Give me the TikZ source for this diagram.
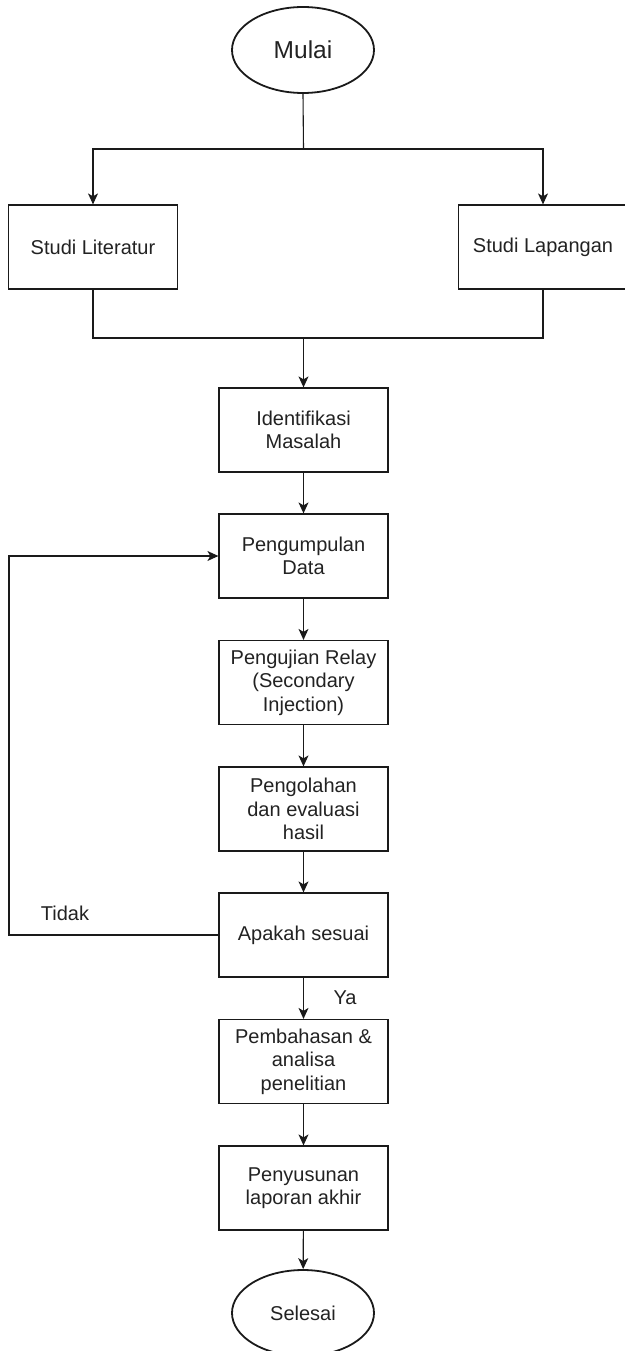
\documentclass[tikz,border=0pt]{standalone}
\usepackage{fontspec}
\setmainfont{Liberation Sans}
\usepackage{tikz}
\usetikzlibrary{arrows.meta, positioning, shapes.geometric}
\definecolor{fcLine}{HTML}{1A1A1A}
\definecolor{fcText}{HTML}{222222}

\begin{document}
\begin{tikzpicture}[
  x=1pt, y=-1pt,
  box/.style={draw=fcLine, line width=1.2pt, minimum width=169pt, minimum height=84pt,
              align=center, text=fcText, font=\fontsize{20}{23.5}\selectfont, inner sep=2pt},
  term/.style={draw=fcLine, ellipse, line width=1.8pt, minimum width=142pt, minimum height=86pt,
               text=fcText, font=\fontsize{#1}{24}\selectfont},
  lbl/.style={text=fcText, font=\fontsize{20}{24}\selectfont},
  arr/.style={-{Stealth[length=11pt,width=10pt,inset=3pt]}, line width=1.1pt, fcLine},
  ln/.style={line width=1.1pt, fcLine}
]
  \useasboundingbox (0,0) rectangle (624,1351);

  \node[term=24.5] (start) at (303,50) {Mulai};
  \node[box] (lit) at (93,247) {Studi Literatur};
  \node[box] (lap) at (543,247) {Studi Lapangan};
  \node[box] (ident) at (303.5,430) {Identifikasi\\Masalah};
  \node[box] (data) at (303.5,556) {Pengumpulan\\Data};
  \node[box] (uji) at (303.5,682.5) {Pengujian Relay\\(Secondary\\Injection)};
  \node[box] (olah) at (303.5,809) {Pengolahan\\dan evaluasi\\hasil};
  \node[box] (cek) at (303.5,935) {Apakah sesuai};
  \node[box] (bahas) at (303.5,1061.5) {Pembahasan \&\\analisa\\penelitian};
  \node[box] (susun) at (303.5,1188) {Penyusunan\\laporan akhir};
  \node[term=20] (end) at (303,1313) {Selesai};

  \coordinate (split) at (303.5,149);
  \coordinate (join) at (303.5,338);
  \coordinate (back) at (9,935);

  % percabangan studi
  \draw[ln] (start.south) -- (split);
  \draw[arr] (split) -| (lit.north);
  \draw[arr] (split) -| (lap.north);
  \draw[ln] (lit.south) |- (join) -| (lap.south);
  \draw[arr] (join) -- (ident);

  % alur utama
  \draw[arr] (ident) -- (data);
  \draw[arr] (data) -- (uji);
  \draw[arr] (uji) -- (olah);
  \draw[arr] (olah) -- (cek);
  \draw[arr] (cek) -- (bahas);
  \draw[arr] (bahas) -- (susun);
  \draw[arr] (susun) -- (end);

  % umpan balik
  \draw[arr] (cek.west) -- (back) |- (data.west);
  \node[lbl] (tidak) at (65,913) {Tidak};
  \node[lbl] (ya) at (345,998) {Ya};
\end{tikzpicture}
\end{document}
